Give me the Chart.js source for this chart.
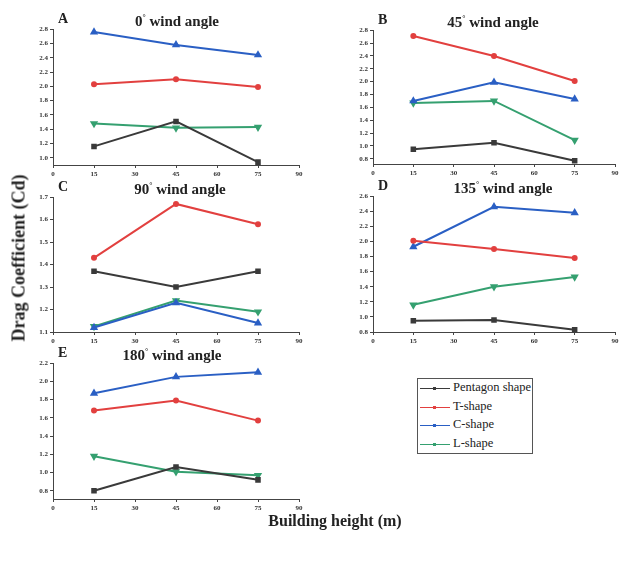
<!DOCTYPE html>
<html>
<head>
<meta charset="utf-8">
<script src="https://cdn.jsdelivr.net/npm/chart.js@4.4.0/dist/chart.umd.min.js"></script>
<style>
  body { margin: 0; background: #fff; }
  #page { position: relative; width: 630px; height: 561px; font-family: "Liberation Serif", serif; }
  canvas, .txt { position: absolute; }
  .letter { font-weight: bold; font-size: 14px; color: #222; }
  .title { font-weight: bold; font-size: 15px; color: #222; transform: translateX(-50%); white-space: nowrap; }
  #ylab { font-weight: bold; font-size: 18px; color: #222; left: 19px; top: 258px; transform: translate(-50%, -50%) rotate(-90deg); white-space: nowrap; }
  #xlab { font-weight: bold; font-size: 16px; color: #222; left: 335px; top: 512px; transform: translateX(-50%); white-space: nowrap; }
  #legend { position: absolute; left: 417px; top: 378px; width: 114px; height: 74px; border: 1px solid #555; }
  .row { position: absolute; left: 2px; height: 18px; font-size: 12.5px; color: #222; }
  .row .ln { position: absolute; left: 0; top: 9px; width: 30px; border-top: 1.5px solid; }
  .row .mk { position: absolute; left: 13px; top: 8px; width: 3px; height: 3px; }
  .row span { position: absolute; left: 33px; top: 1px; white-space: nowrap; }
</style>
</head>
<body>
<div id="page"></div>
<script>
// building heights (x) and tick labels
const heights = [15, 45, 75];
const xTicks = [0, 15, 30, 45, 60, 75, 90];
const shapes = ['Pentagon shape', 'T-shape', 'C-shape', 'L-shape'];

// drag coefficient per wind angle, rows follow shapes order
const cd0 = [[1.16, 1.51, 0.94], [2.03, 2.10, 1.99], [2.76, 2.58, 2.44], [1.48, 1.42, 1.43]];
const cd45 = [[0.95, 1.05, 0.77], [2.71, 2.40, 2.01], [1.70, 1.99, 1.73], [1.67, 1.70, 1.09]];
const cd90 = [[1.37, 1.30, 1.37], [1.43, 1.67, 1.58], [1.12, 1.23, 1.14], [1.125, 1.24, 1.19]];
const cd135 = [[0.95, 0.96, 0.83], [2.01, 1.90, 1.78], [1.93, 2.46, 2.38], [1.16, 1.40, 1.53]];
const cd180 = [[0.80, 1.06, 0.92], [1.68, 1.79, 1.57], [1.87, 2.05, 2.10], [1.18, 1.01, 0.97]];

// y tick labels per panel
const yTicks0 = [1.0, 1.2, 1.4, 1.6, 1.8, 2.0, 2.2, 2.4, 2.6, 2.8];
const yTicks45 = [0.8, 1.0, 1.2, 1.4, 1.6, 1.8, 2.0, 2.2, 2.4, 2.6, 2.8];
const yTicks90 = [1.1, 1.2, 1.3, 1.4, 1.5, 1.6, 1.7];
const yTicks135 = [0.8, 1.0, 1.2, 1.4, 1.6, 1.8, 2.0, 2.2, 2.4, 2.6];
const yTicks180 = [0.8, 1.0, 1.2, 1.4, 1.6, 1.8, 2.0, 2.2];

const colors = ['#3a3a3a', '#e2403f', '#2a5fc4', '#35a070'];
const markers = ['rect', 'circle', 'triangle', 'triangle'];
const rotations = [0, 0, 0, 180];
const radii = [2.5, 2, 2.8, 2.8];

const page = document.getElementById('page');

function addText(cls, text, x, y) {
  const d = document.createElement('div');
  d.className = 'txt ' + cls;
  d.innerHTML = text;
  d.style.left = x + 'px';
  d.style.top = y + 'px';
  page.appendChild(d);
}

// plot area: left, top, right, bottom
function makePanel(letter, angle, data, yTicks, yMin, yMax, L, T, R, B, titleX) {
  const cv = document.createElement('canvas');
  const w = R - L + 34, h = B - T + 22;
  cv.width = w; cv.height = h;
  cv.style.left = (L - 26) + 'px';
  cv.style.top = (T - 6) + 'px';
  page.appendChild(cv);

  addText('letter', letter, L + 5, T - 18);
  addText('title', angle + '<sup style="font-size:8px">°</sup> wind angle', titleX, T - 16);

  const tickFont = { family: 'Liberation Serif', size: 7, weight: 'bold' };
  new Chart(cv.getContext('2d'), {
    type: 'line',
    data: {
      datasets: data.map((vals, i) => ({
        label: shapes[i],
        data: heights.map((x, j) => ({ x: x, y: vals[j] })),
        borderColor: colors[i],
        backgroundColor: colors[i],
        borderWidth: 2,
        pointStyle: markers[i],
        rotation: rotations[i],
        pointRadius: radii[i],
        clip: false
      }))
    },
    options: {
      responsive: false,
      devicePixelRatio: 1,
      animation: false,
      layout: { padding: { left: 0, top: 6, right: 8, bottom: 0 } },
      plugins: { legend: { display: false }, tooltip: { enabled: false } },
      scales: {
        x: {
          type: 'linear', min: 0, max: 90,
          afterBuildTicks: s => { s.ticks = xTicks.map(v => ({ value: v })); },
          afterFit: s => { s.height = 16; },
          grid: { drawOnChartArea: false, tickLength: 3, color: '#444' },
          border: { color: '#444', width: 1 },
          ticks: { font: tickFont, color: '#333', padding: 2, maxRotation: 0 }
        },
        y: {
          type: 'linear', min: yMin, max: yMax,
          afterBuildTicks: s => { s.ticks = yTicks.map(v => ({ value: v })); },
          afterFit: s => { s.width = 26; },
          grid: { drawOnChartArea: false, tickLength: 3, color: '#444' },
          border: { color: '#444', width: 1 },
          ticks: { font: tickFont, color: '#333', padding: 2, callback: v => v.toFixed(1) }
        }
      }
    }
  });
}

makePanel('A', 0, cd0, yTicks0, 0.9, 2.8, 53, 29, 299, 165, 177);
makePanel('B', 45, cd45, yTicks45, 0.72, 2.8, 373, 30, 615, 164, 493);
makePanel('C', 90, cd90, yTicks90, 1.1, 1.7, 53, 197, 299, 332, 180);
makePanel('D', 135, cd135, yTicks135, 0.8, 2.6, 373, 196, 615, 332, 503);
makePanel('E', 180, cd180, yTicks180, 0.71, 2.2, 53, 363, 299, 499, 172);

const yl = document.createElement('div');
yl.id = 'ylab'; yl.className = 'txt'; yl.textContent = 'Drag Coefficient (Cd)';
page.appendChild(yl);
const xl = document.createElement('div');
xl.id = 'xlab'; xl.className = 'txt'; xl.textContent = 'Building height (m)';
page.appendChild(xl);

// legend
const lg = document.createElement('div');
lg.id = 'legend';
shapes.forEach((name, i) => {
  const r = document.createElement('div');
  r.className = 'row';
  r.style.top = (i * 18.5) + 'px';
  r.innerHTML = '<div class="ln" style="border-color:' + colors[i] + '"></div>' +
    '<div class="mk" style="background:' + colors[i] + '"></div><span>' + name + '</span>';
  lg.appendChild(r);
});
page.appendChild(lg);
</script>
</body>
</html>
